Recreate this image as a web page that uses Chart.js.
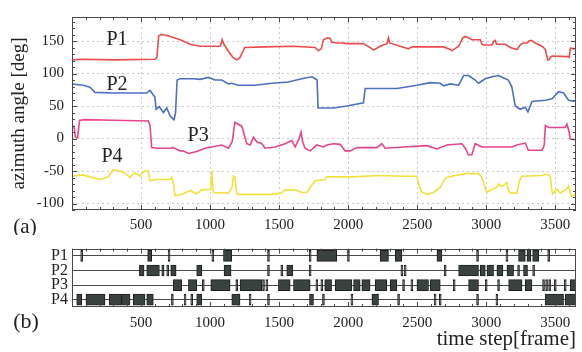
<!DOCTYPE html>
<html><head><meta charset="utf-8">
<script src="https://cdn.jsdelivr.net/npm/chart.js@4.4.1/dist/chart.umd.min.js"></script>
<style>
html,body{margin:0;padding:0;background:#fff;}
#wrap{position:relative;width:582px;height:352px;overflow:hidden;background:#fff;}
#c1{position:absolute;left:0;top:0;}
#c2{position:absolute;left:0;top:235px;}
</style></head><body>
<div id="wrap"><canvas id="c1" width="582" height="235"></canvas><canvas id="c2" width="582" height="117"></canvas></div>
<script>
// ---------- (a) azimuth angle series ----------
const p1Frames = [0,80,300,600,615,628,650,700,712,783,855,928,1072,1080,1087,1100,1130,1165,1193,1215,1240,1250,1400,1600,1761,1785,1805,1821,1850,1870,1880,1920,1964,1990,2109,2160,2183,2232,2280,2292,2300,2377,2437,2460,2691,2739,2751,2800,2830,2848,2872,2896,2957,2970,2981,3041,3055,3065,3075,3138,3174,3222,3250,3268,3295,3310,3326,3355,3404,3428,3445,3452,3476,3590,3600,3610,3640];
const p1Values = [121,122,121,122,125,158,160,158,157,152,145,142,142,146,152,145,135,125,121,124,135,140,141,142,140,135,138,152,155,154,148,147,147,146,146,140,136,142,146,155,147,142,138,141,141,137,135,142,155,157,155,152,152,145,144,144,150,151,145,145,140,137,145,147,147,150,151,147,142,137,121,121,127,126,125,139,138];

const p2Frames = [0,82,130,167,300,541,565,589,600,609,633,662,686,710,722,739,750,761,783,877,928,988,1036,1085,1133,1157,1203,1326,1447,1567,1664,1737,1761,1775,1782,1893,1990,2111,2123,2353,2498,2594,2667,2691,2739,2800,2815,2836,2872,2920,2944,2993,3041,3089,3138,3160,3185,3210,3246,3283,3302,3331,3428,3476,3524,3560,3596,3640];
const p2Values = [84,82,79,71,70,70,74,67,64,45,49,40,47,35,32,29,40,90,92,92,91,94,90,90,84,85,82,82,85,87,92,95,92,90,47,47,50,55,77,77,82,86,85,81,84,82,88,97,97,90,85,92,95,97,92,90,80,50,45,48,41,57,59,61,72,70,59,57];

const p3Frames = [0,15,25,40,55,100,300,553,565,577,614,710,734,783,804,843,903,964,1085,1133,1160,1180,1203,1230,1266,1290,1314,1338,1375,1399,1471,1543,1592,1616,1645,1659,1670,1688,1725,1773,1821,1846,1893,1942,1978,2014,2063,2208,2244,2268,2401,2570,2643,2715,2824,2848,2870,2896,2920,2969,3186,3222,3283,3304,3404,3420,3428,3452,3572,3585,3600,3609,3640];
const p3Values = [20,18,2,1,28,29,28,27,20,-14,-15,-15,-14,-19,-19,-23,-20,-15,-10,-15,-5,25,22,19,-8,-10,2,-5,-8,-15,-13,-8,-3,-13,0,10,-5,-15,-19,-10,-13,-10,-8,-9,-19,-19,-14,-14,-8,-15,-13,-11,-16,-10,-8,-15,-25,-25,-8,-13,-13,-10,-7,-18,-18,-10,20,17,17,22,10,-1,-2];

const p4Frames = [0,82,130,203,263,285,299,348,384,420,440,457,493,510,529,551,565,601,710,722,735,746,807,855,903,940,1005,1012,1020,1024,1133,1160,1169,1180,1193,1203,1447,1519,1543,1616,1664,1700,1725,1761,1833,1846,2039,2220,2401,2498,2510,2530,2570,2618,2667,2700,2715,2775,2848,2944,2969,2990,3005,3041,3077,3089,3113,3150,3160,3174,3222,3240,3259,3400,3440,3464,3475,3481,3512,3536,3580,3596,3610,3621,3640];
const p4Values = [-58,-56,-59,-63,-59,-52,-48,-50,-53,-60,-55,-53,-58,-52,-50,-50,-65,-63,-63,-60,-70,-88,-85,-80,-85,-79,-78,-50,-75,-83,-84,-75,-58,-60,-85,-86,-86,-84,-79,-79,-83,-83,-75,-65,-63,-59,-59,-57,-58,-58,-70,-82,-86,-83,-75,-62,-60,-57,-54,-54,-60,-75,-83,-78,-75,-70,-74,-68,-80,-84,-84,-65,-58,-57,-55,-58,-80,-85,-78,-84,-78,-73,-85,-89,-86];

const seriesNames = ['P1','P2','P3','P4'];
const seriesColors = ['#ef4a4e','#4f6ec6','#e8448e','#f1e13e'];
// label anchors in data space (frame, deg)
const seriesLabelFrames = [326,326,913,290];
const seriesLabelValues = [152,83,5,-28];

// tick labels
const xTickValues = [0,500,1000,1500,2000,2500,3000,3500];
const yTickValues = [-100,-50,0,50,100,150];

// ---------- (b) activity timeline ----------
const rowNames = ['P1','P2','P3','P4'];
const p1Segments = [[63,77],[548,577],[696,710],[1013,1027],[1097,1157],[1416,1430],[1718,1732],[1773,1918],[1995,2009],[2232,2292],[2341,2389],[2643,2679],[2930,2944],[3143,3157],[3234,3283],[3295,3324],[3336,3380],[3445,3459]];
const p2Segments = [[488,522],[541,633],[650,667],[686,701],[715,754],[903,940],[1101,1152],[1416,1430],[1512,1526],[1555,1599],[1718,1732],[2382,2396],[2406,2420],[2696,2710],[2800,2944],[2957,2993],[3005,3053],[3077,3121],[3150,3198],[3227,3241],[3270,3299],[3336,3350]];
const p3Segments = [[734,795],[843,903],[944,958],[1005,1145],[1186,1200],[1217,1374],[1380,1394],[1404,1418],[1495,1580],[1604,1725],[1766,1780],[1802,1816],[1830,1880],[1906,2027],[2039,2087],[2099,2159],[2196,2280],[2304,2353],[2394,2408],[2454,2468],[2498,2582],[2594,2667],[2761,2775],[2872,2944],[2993,3007],[3082,3096],[3162,3259],[3283,3331],[3408,3422],[3430,3444],[3452,3466],[3493,3507],[3565,3579],[3609,3650]];
const p4Segments = [[34,70],[101,239],[270,360],[365,420],[444,529],[541,589],[720,734],[812,826],[860,874],[903,940],[1157,1217],[1283,1297],[1416,1430],[1720,1749],[1814,1828],[2020,2034],[2172,2220],[2358,2372],[2623,2637],[2660,2674],[2930,2944],[3070,3084],[3428,3560],[3572,3650]];

const xMin = 0, xMax = 3650, xMinor = 100;
const yMin = -110, yMax = 187, yMinor = 10, yMajor = 50;

const FONT = "'Liberation Serif', 'DejaVu Serif', serif";
const INK = '#222';

function framePlugin(xMinorStep, yMinorStep, yMajorStep){
  return {
    id:'frame',
    afterDraw(chart){
      const {ctx, chartArea:a, scales} = chart;
      ctx.save();
      ctx.strokeStyle = '#484848';
      ctx.lineWidth = 1;
      ctx.strokeRect(Math.round(a.left)+0.5, Math.round(a.top)+0.5, Math.round(a.right-a.left)-1, Math.round(a.bottom-a.top)-1);
      ctx.beginPath();
      const xs = scales.x;
      for (let v = Math.ceil(xs.min/xMinorStep)*xMinorStep; v <= xs.max; v += xMinorStep){
        const px = Math.round(xs.getPixelForValue(v))+0.5;
        const len = (v % 500 === 0) ? 5 : 3;
        ctx.moveTo(px, a.bottom); ctx.lineTo(px, a.bottom-len);
        ctx.moveTo(px, a.top); ctx.lineTo(px, a.top+len);
      }
      if (yMinorStep){
        const ys = scales.y;
        for (let v = Math.ceil(ys.min/yMinorStep)*yMinorStep; v <= ys.max; v += yMinorStep){
          const py = Math.round(ys.getPixelForValue(v))+0.5;
          const len = (v % yMajorStep === 0) ? 5 : 3;
          ctx.moveTo(a.left, py); ctx.lineTo(a.left+len, py);
          ctx.moveTo(a.right, py); ctx.lineTo(a.right-len, py);
        }
      }
      ctx.stroke();
      ctx.restore();
    }
  };
}

const topText = {
  id:'topText',
  afterDraw(chart){
    const {ctx, scales} = chart;
    ctx.save();
    ctx.fillStyle = INK;
    ctx.textAlign = 'center';
    ctx.textBaseline = 'middle';
    ctx.font = "20px " + FONT;
    seriesNames.forEach((n,i)=>{
      ctx.fillText(n, scales.x.getPixelForValue(seriesLabelFrames[i]), scales.y.getPixelForValue(seriesLabelValues[i]));
    });
    ctx.font = "21px " + FONT;
    ctx.fillText('(a)', 25, 227);
    ctx.restore();
  }
};
const bottomText = {
  id:'bottomText',
  afterDraw(chart){
    const {ctx} = chart;
    ctx.save();
    ctx.fillStyle = INK;
    ctx.textAlign = 'center';
    ctx.textBaseline = 'middle';
    ctx.font = "22px " + FONT;
    ctx.fillText('(b)', 26, 87);
    ctx.restore();
  }
};

const lineSets = [[p1Frames,p1Values],[p2Frames,p2Values],[p3Frames,p3Values],[p4Frames,p4Values]].map((fv,i)=>({
  label: seriesNames[i],
  data: fv[0].map((f,j)=>({x:f, y:fv[1][j]})),
  borderColor: seriesColors[i],
  borderWidth: 1.6,
  pointRadius: 0,
  tension: 0,
  fill: false
}));

const setTicks = (vals)=> (axis)=>{ axis.ticks = vals.map(v=>({value:v})); };
const xLabel = (v)=> v===0 ? '' : String(v);

new Chart(document.getElementById('c1'), {
  type:'line',
  data:{datasets: lineSets},
  options:{
    responsive:false, animation:false, devicePixelRatio:1,
    layout:{padding:{left:0,right:6,top:11,bottom:0}},
    plugins:{legend:{display:false}, tooltip:{enabled:false}},
    scales:{
      x:{
        type:'linear', min:xMin, max:xMax,
        afterBuildTicks: setTicks(xTickValues),
        afterFit(s){ s.height = 25; },
        grid:{color:'#c9c9c9', drawTicks:false, lineWidth:1},
        border:{display:false, dash:[2,3]},
        ticks:{autoSkip:false, maxRotation:0, padding:6, color:INK,
          font:{family:FONT, size:15}, callback:xLabel}
      },
      y:{
        type:'linear', min:yMin, max:yMax,
        afterBuildTicks: setTicks(yTickValues),
        afterFit(s){ s.width = 72; },
        grid:{color:'#c9c9c9', drawTicks:false, lineWidth:1},
        border:{display:false, dash:[2,3]},
        ticks:{autoSkip:false, padding:8, color:INK, font:{family:FONT, size:15}},
        title:{display:true, text:'azimuth angle [deg]', color:INK, font:{family:FONT, size:19}, padding:{top:8,bottom:0}}
      }
    }
  },
  plugins:[framePlugin(xMinor, yMinor, yMajor), topText]
});

const segData = [];
[p1Segments,p2Segments,p3Segments,p4Segments].forEach((segs,i)=>{
  segs.forEach(s=> segData.push({x:s, y:rowNames[i]}));
});

new Chart(document.getElementById('c2'), {
  type:'bar',
  data:{labels: rowNames, datasets:[{
    data: segData,
    backgroundColor:'#3a423f',
    borderColor:'#1c1f1e',
    borderWidth:1,
    borderSkipped:false,
    barThickness:11
  }]},
  options:{
    indexAxis:'y',
    responsive:false, animation:false, devicePixelRatio:1,
    layout:{padding:{left:0,right:6,top:9,bottom:0}},
    plugins:{legend:{display:false}, tooltip:{enabled:false}},
    scales:{
      x:{
        type:'linear', min:xMin, max:xMax,
        afterBuildTicks: setTicks(xTickValues),
        afterFit(s){ s.height = 45; },
        grid:{display:false, drawTicks:false},
        border:{display:false},
        ticks:{autoSkip:false, maxRotation:0, padding:7, color:INK,
          font:{family:FONT, size:15}, callback:xLabel},
        title:{display:true, text:'time step[frame]', align:'end', color:INK, font:{family:FONT, size:21}, padding:{top:0,bottom:0}}
      },
      y:{
        type:'category', offset:true,
        afterFit(s){ s.width = 72; },
        grid:{offset:false, color:'#4a4a4a', drawTicks:false, lineWidth:1},
        border:{display:false},
        ticks:{autoSkip:false, padding:4, color:INK, font:{family:FONT, size:16}}
      }
    }
  },
  plugins:[framePlugin(xMinor, 0, 0), bottomText]
});
</script>
</body></html>
